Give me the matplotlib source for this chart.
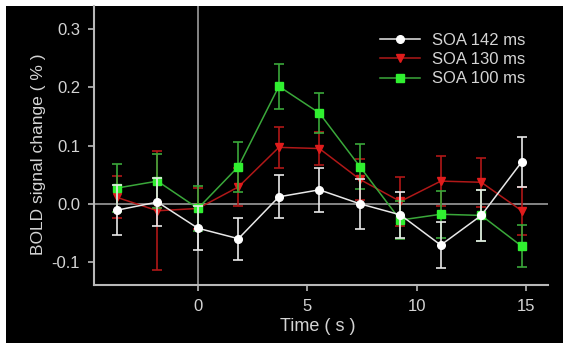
import matplotlib
matplotlib.use("Agg")
import matplotlib.pyplot as plt
from matplotlib.patches import Rectangle

plt.rcParams['font.family'] = ['Liberation Sans', 'DejaVu Sans']
plt.rcParams['axes.unicode_minus'] = False

# time points (s) and mean BOLD change (%) with SEM
time = [-3.7, -1.85, 0.0, 1.85, 3.7, 5.55, 7.4, 9.25, 11.1, 12.95, 14.8]

soa142 = [-0.011, 0.003, -0.042, -0.060, 0.012, 0.024, 0.000, -0.019, -0.071, -0.020, 0.072]
soa142_err = [0.043, 0.042, 0.038, 0.036, 0.037, 0.038, 0.043, 0.040, 0.040, 0.044, 0.043]

soa130 = [0.011, -0.012, -0.008, 0.029, 0.097, 0.095, 0.042, 0.004, 0.039, 0.037, -0.012]
soa130_err = [0.036, 0.102, 0.035, 0.032, 0.035, 0.029, 0.035, 0.042, 0.043, 0.042, 0.041]

soa100 = [0.027, 0.039, -0.008, 0.064, 0.202, 0.156, 0.064, -0.028, -0.018, -0.020, -0.073]
soa100_err = [0.041, 0.047, 0.039, 0.043, 0.039, 0.035, 0.038, 0.032, 0.040, 0.044, 0.036]

labels = ['SOA 142 ms', 'SOA 130 ms', 'SOA 100 ms']

fig = plt.figure(figsize=(5.63, 3.43), dpi=100, facecolor='white')
fig.add_artist(Rectangle((6 / 563, 0), 1, 1 - 6 / 343, transform=fig.transFigure,
                         facecolor='black', edgecolor='none', zorder=-10))
ax = fig.add_axes([94 / 563, 1 - 285 / 343, (548 - 94) / 563, (285 - 6) / 343])
ax.set_facecolor('black')
ax.patch.set_alpha(0)

fg = '#d4d4d4'
ax.axhline(0, color='#9c9c9c', lw=1.2, zorder=1)
ax.axvline(0, color='#9c9c9c', lw=1.2, zorder=1)

series = [
    (soa130, soa130_err, labels[1], '#b01818', '#e01c1c', 'v', 2),
    (soa100, soa100_err, labels[2], '#3aa83a', '#30f030', 's', 3),
    (soa142, soa142_err, labels[0], '#e8e8e8', '#ffffff', 'o', 4),
]
handles = {}
for y, err, lab, lc, mc, mk, z in series:
    ax.errorbar(time, y, yerr=err, fmt='none', ecolor=lc, elinewidth=1.2,
                capsize=3.5, capthick=1.2, zorder=z)
    ln, = ax.plot(time, y, color=lc, lw=1.1, marker=mk, ms=5.5,
                  mfc=mc, mec=mc, label=lab, zorder=z + 0.5)
    handles[lab] = ln

ax.set_xlim(-4.75, 16.0)
ax.set_ylim(-0.1396, 0.340)
ax.set_xticks([0, 5, 10, 15])
ax.set_yticks([-0.1, 0.0, 0.1, 0.2, 0.3])
ax.set_yticklabels(['%.1f' % v for v in [-0.1, 0.0, 0.1, 0.2, 0.3]])

for s in ['top', 'right']:
    ax.spines[s].set_visible(False)
for s in ['left', 'bottom']:
    ax.spines[s].set_color('#b8b8b8')
    ax.spines[s].set_linewidth(1.5)
ax.tick_params(colors='#b8b8b8', labelcolor=fg, labelsize=12, length=4, width=1.2)
ax.tick_params(axis='y', pad=6)
ax.tick_params(axis='x', pad=6)

ax.set_xlabel('Time ( s )', color=fg, fontsize=13)
ax.xaxis.set_label_coords(0.493, -0.118)
ax.set_ylabel('BOLD signal change ( % )', color=fg, fontsize=12.5)
ax.yaxis.set_label_coords(-0.105, 0.47)

leg = ax.legend([handles[l] for l in labels], labels, loc='upper left',
                bbox_to_anchor=(0.63, 0.903), frameon=False, fontsize=12,
                handlelength=2.4, labelspacing=0.25, handletextpad=0.72,
                borderpad=0, borderaxespad=0)
for t in leg.get_texts():
    t.set_color(fg)

fig.savefig('out.png', dpi=100, facecolor=fig.get_facecolor())
